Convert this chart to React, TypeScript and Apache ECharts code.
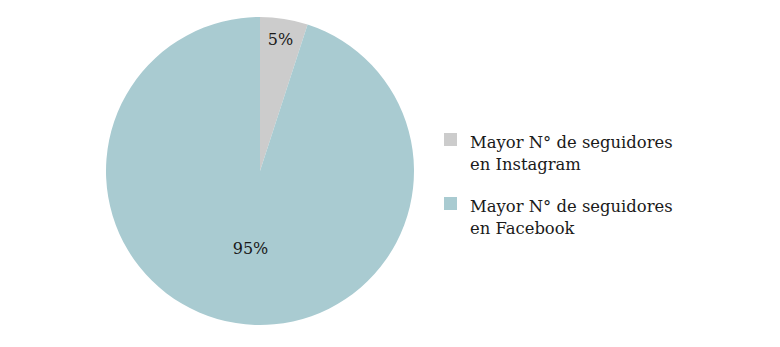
import React, { useEffect, useRef } from "react";
import * as echarts from "echarts";

const categories = ["Mayor N° de seguidores\nen Instagram", "Mayor N° de seguidores\nen Facebook"];
const values = [5, 95];
const colors = ["#cccccc", "#a9cbd1"];

export default function App() {
  const ref = useRef<HTMLDivElement>(null);
  useEffect(() => {
    document.body.style.margin = "0";
    const chart = echarts.init(ref.current!, null, { renderer: "svg" });
    const font = "'DejaVu Serif', 'Liberation Serif', serif";
    chart.setOption({
      animation: false,
      backgroundColor: "#ffffff",
      legend: {
        orient: "vertical",
        left: 444,
        top: 112.5,
        padding: 0,
        itemWidth: 13,
        itemHeight: 13,
        itemGap: 4,
        icon: "rect",
        data: categories,
        formatter: (name: string) =>
          "{s| }\n" + name.split("\n").map((l) => "{t|" + l + "}").join("\n"),
        textStyle: {
          fontFamily: font,
          fontSize: 16.4,
          color: "#1a1a1a",
          padding: [0, 0, 0, 8],
          rich: {
            s: { lineHeight: 28, fontSize: 10, fontFamily: font },
            t: { lineHeight: 22, fontSize: 16.4, fontFamily: font, color: "#1a1a1a" },
          },
        },
      },
      series: [
        {
          type: "pie",
          center: [260, 171],
          radius: 154,
          startAngle: 90,
          clockwise: true,
          labelLine: { show: false },
          itemStyle: { borderWidth: 0 },
          emphasis: { disabled: true },
          data: categories.map((name, i) => ({
            name,
            value: values[i],
            itemStyle: { color: colors[i] },
          })),
          label: {
            show: true,
            position: "inside",
            formatter: "{d}%",
            fontFamily: font,
            fontSize: 16,
            color: "#1a1a1a",
          },
          labelLayout: (params: any) =>
            params.dataIndex === 0 ? { dx: 8, dy: -52 } : { dx: 3, dy: -2 },
        },
      ],
    });
    return () => chart.dispose();
  }, []);
  return <div ref={ref} style={{ width: 780, height: 347 }} />;
}
